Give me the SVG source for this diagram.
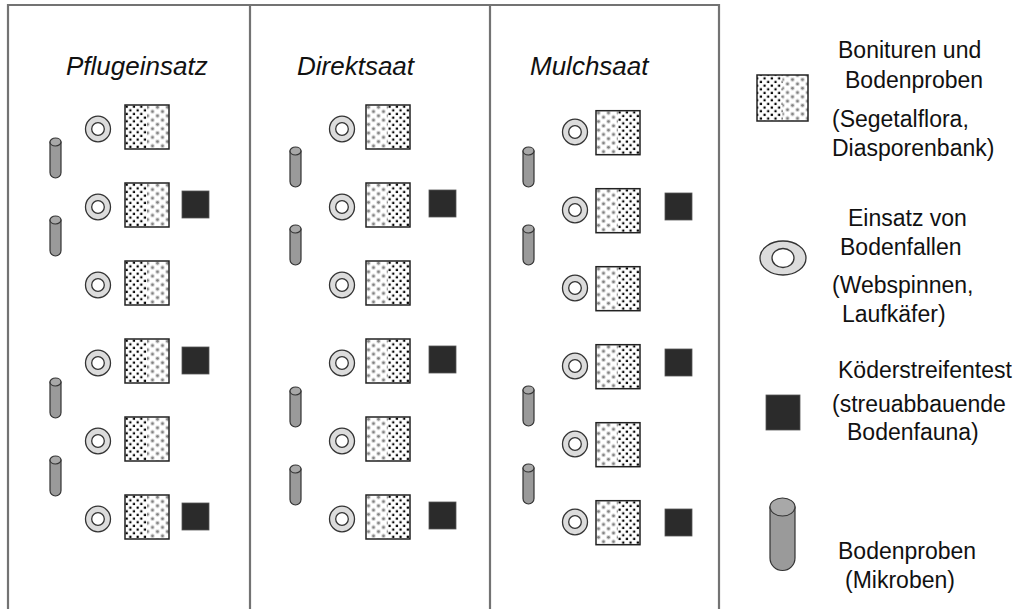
<svg xmlns="http://www.w3.org/2000/svg" xmlns:xlink="http://www.w3.org/1999/xlink" width="1020" height="609" viewBox="0 0 1020 609">
  <style>
    .frame { fill: none; stroke: #737373; stroke-width: 2.2; }
    .title { font-family: "Liberation Sans", Arial, sans-serif; font-size: 26px; font-style: italic; fill: #111; }
    .lbl { font-family: "Liberation Sans", Arial, sans-serif; font-size: 23px; fill: #111; }
    .bait { fill: #2b2b2b; stroke: #555; stroke-width: 0.8; }
    .trapOuter { fill: #dcdcdc; stroke: #333; stroke-width: 1.3; }
    .trapInner { fill: #fff; stroke: #333; stroke-width: 1.3; }
    .cylBody { fill: #9a9a9a; stroke: #333; stroke-width: 1.2; }
    .cylTop { fill: #a8a8a8; stroke: #333; stroke-width: 1.2; }
    .plotEdge { fill: none; stroke: #222; stroke-width: 1.5; }
  </style>
  <defs>
    <!-- black dot raster -->
    <pattern id="blk" patternUnits="userSpaceOnUse" width="7.3" height="7.3">
      <rect x="0.6" y="0.6" width="2.2" height="2.2" fill="#000"/>
      <rect x="4.25" y="4.25" width="2.2" height="2.2" fill="#000"/>
    </pattern>
    <!-- soft grey dot raster -->
    <pattern id="gry" patternUnits="userSpaceOnUse" width="10" height="8.6">
      <circle cx="2.5" cy="2.2" r="2.4" fill="#dadada"/>
      <circle cx="2.5" cy="2.2" r="1.3" fill="#808080"/>
      <circle cx="7.5" cy="6.5" r="2.4" fill="#dadada"/>
      <circle cx="7.5" cy="6.5" r="1.3" fill="#808080"/>
    </pattern>
    <!-- plot square: black dots left, grey dots right -->
    <g id="plotA">
      <rect width="44" height="44" fill="#fff"/>
      <rect width="22" height="44" fill="url(#blk)"/>
      <rect x="22" width="22" height="44" fill="url(#gry)"/>
      <rect width="44" height="44" class="plotEdge"/>
    </g>
    <!-- plot square: grey dots left, black dots right -->
    <g id="plotB">
      <rect width="44" height="44" fill="#fff"/>
      <rect width="22" height="44" fill="url(#gry)"/>
      <rect x="22" width="22" height="44" fill="url(#blk)"/>
      <rect width="44" height="44" class="plotEdge"/>
    </g>
    <!-- pitfall trap -->
    <g id="trap">
      <ellipse rx="12.5" ry="12.8" class="trapOuter"/>
      <ellipse rx="6.3" ry="6.3" class="trapInner"/>
    </g>
    <!-- soil core cylinder -->
    <g id="cyl">
      <path d="M0,4 L0,34.5 A5.5,5.5 0 0 0 11,34.5 L11,4 Z" class="cylBody"/>
      <ellipse cx="5.5" cy="4" rx="5.5" ry="4" class="cylTop"/>
    </g>
    <rect id="baitSq" width="27" height="27" class="bait"/>
  </defs>

  <!-- panel frame -->
  <g id="frame">
    <path class="frame" d="M8,609 V5 H719 V609 M250,5 V609 M490,5 V609"/>
  </g>

  <!-- panel 1: Pflugeinsatz -->
  <g id="panel-pflug">
    <text class="title" x="66" y="75">Pflugeinsatz</text>
    <use href="#cyl" x="50" y="138"/>
    <use href="#cyl" x="50" y="216"/>
    <use href="#cyl" x="50" y="378"/>
    <use href="#cyl" x="50" y="456"/>
    <use href="#trap" x="98" y="129"/>
    <use href="#trap" x="98" y="207"/>
    <use href="#trap" x="98" y="285"/>
    <use href="#trap" x="98" y="363"/>
    <use href="#trap" x="98" y="441"/>
    <use href="#trap" x="98" y="519"/>
    <use href="#plotA" x="125" y="105"/>
    <use href="#plotA" x="125" y="183"/>
    <use href="#plotA" x="125" y="261"/>
    <use href="#plotA" x="125" y="339"/>
    <use href="#plotA" x="125" y="417"/>
    <use href="#plotA" x="125" y="495"/>
    <use href="#baitSq" x="182" y="191"/>
    <use href="#baitSq" x="182" y="347"/>
    <use href="#baitSq" x="182" y="503"/>
  </g>

  <!-- panel 2: Direktsaat -->
  <g id="panel-direkt">
    <text class="title" x="297" y="75">Direktsaat</text>
    <use href="#cyl" x="290" y="147"/>
    <use href="#cyl" x="290" y="225"/>
    <use href="#cyl" x="290" y="387"/>
    <use href="#cyl" x="290" y="465"/>
    <use href="#trap" x="342" y="129"/>
    <use href="#trap" x="342" y="207"/>
    <use href="#trap" x="342" y="285"/>
    <use href="#trap" x="342" y="363"/>
    <use href="#trap" x="342" y="441"/>
    <use href="#trap" x="342" y="519"/>
    <use href="#plotB" x="366" y="105"/>
    <use href="#plotB" x="366" y="183"/>
    <use href="#plotB" x="366" y="261"/>
    <use href="#plotB" x="366" y="339"/>
    <use href="#plotB" x="366" y="417"/>
    <use href="#plotB" x="366" y="495"/>
    <use href="#baitSq" x="429" y="190"/>
    <use href="#baitSq" x="429" y="346"/>
    <use href="#baitSq" x="429" y="502"/>
  </g>

  <!-- panel 3: Mulchsaat -->
  <g id="panel-mulch">
    <text class="title" x="530" y="75">Mulchsaat</text>
    <use href="#cyl" x="523" y="147"/>
    <use href="#cyl" x="523" y="225"/>
    <use href="#cyl" x="523" y="386"/>
    <use href="#cyl" x="523" y="464"/>
    <use href="#trap" x="575" y="132"/>
    <use href="#trap" x="575" y="210"/>
    <use href="#trap" x="575" y="288"/>
    <use href="#trap" x="575" y="366"/>
    <use href="#trap" x="575" y="444"/>
    <use href="#trap" x="575" y="522"/>
    <use href="#plotB" x="596" y="110.7"/>
    <use href="#plotB" x="596" y="188.7"/>
    <use href="#plotB" x="596" y="266.7"/>
    <use href="#plotB" x="596" y="344.7"/>
    <use href="#plotB" x="596" y="422.7"/>
    <use href="#plotB" x="596" y="500.7"/>
    <use href="#baitSq" x="665" y="193"/>
    <use href="#baitSq" x="665" y="349"/>
    <use href="#baitSq" x="665" y="509"/>
  </g>

  <!-- legend -->
  <g id="legend-plot">
    <rect x="757" y="75" width="51" height="46" fill="#fff"/>
    <rect x="757" y="75" width="25.5" height="46" fill="url(#blk)"/>
    <rect x="782.5" y="75" width="25.5" height="46" fill="url(#gry)"/>
    <rect x="757" y="75" width="51" height="46" class="plotEdge"/>
    <text class="lbl" x="838" y="58">Bonituren und</text>
    <text class="lbl" x="845" y="88">Bodenproben</text>
    <text class="lbl" x="832" y="127">(Segetalflora,</text>
    <text class="lbl" x="832" y="156">Diasporenbank)</text>
  </g>
  <g id="legend-trap">
    <ellipse cx="783" cy="258" rx="23" ry="17" class="trapOuter"/>
    <ellipse cx="783" cy="258" rx="11" ry="9.5" class="trapInner"/>
    <text class="lbl" x="848" y="226">Einsatz von</text>
    <text class="lbl" x="840" y="255">Bodenfallen</text>
    <text class="lbl" x="832" y="293">(Webspinnen,</text>
    <text class="lbl" x="842" y="322">Laufkäfer)</text>
  </g>
  <g id="legend-bait">
    <rect x="766" y="395" width="34" height="35" class="bait"/>
    <text class="lbl" x="838" y="378">Köderstreifentest</text>
    <text class="lbl" x="832" y="412">(streuabbauende</text>
    <text class="lbl" x="847" y="440">Bodenfauna)</text>
  </g>
  <g id="legend-core">
    <path d="M770,507 L770,558 A12.5,12.5 0 0 0 795,558 L795,507 Z" class="cylBody"/>
    <ellipse cx="782.5" cy="507" rx="12.5" ry="9" class="cylTop"/>
    <text class="lbl" x="838" y="559">Bodenproben</text>
    <text class="lbl" x="845" y="588">(Mikroben)</text>
  </g>
</svg>
